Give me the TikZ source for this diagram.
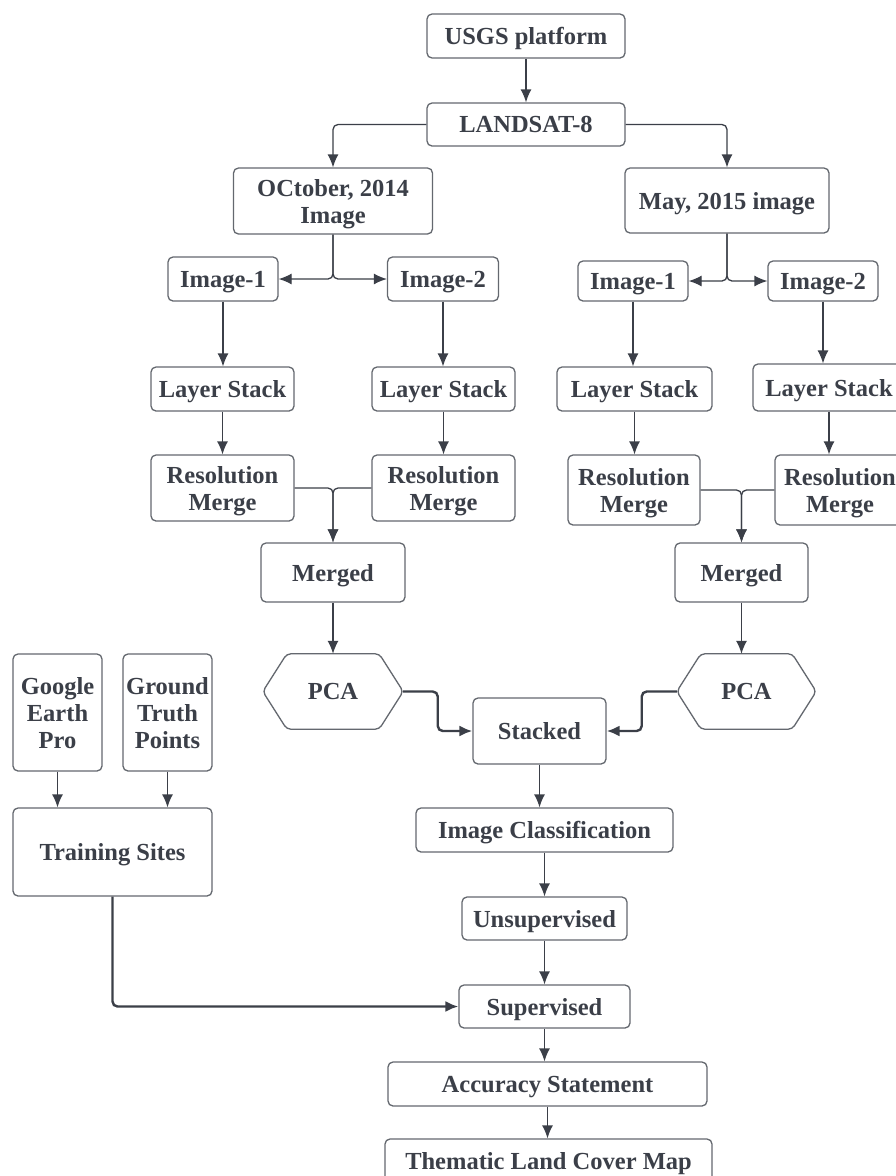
\documentclass[tikz,border=0pt]{standalone}
\usepackage{fontspec}
\setmainfont{Liberation Serif}
\usepackage{tikz}
\usetikzlibrary{arrows.meta,calc}
\definecolor{txtgray}{HTML}{3B3F48}
\definecolor{boxgray}{HTML}{64686F}

\begin{document}
\begin{tikzpicture}[x=1pt,y=-1pt,>={Latex[length=13pt,width=11pt]}]
	\tikzset{box/.style = {draw=boxgray,line width=1.3pt,rounded corners=5pt,fill=white,text=txtgray,
		font=\fontsize{24.5}{27}\selectfont\bfseries,align=center,inner sep=0pt,text depth=0pt}}
	\tikzset{dims/.style 2 args = {minimum width=#1pt,minimum height=#2pt}}
	\tikzset{hexa/.style = {text=txtgray,font=\fontsize{24.5}{27}\selectfont\bfseries,inner sep=0pt}}
	\tikzset{edge/.style = {->,draw=txtgray,line width=1.3pt,rounded corners=5pt}}
	\tikzset{thickedge/.style = {edge,line width=2.4pt}}

	\useasboundingbox (0,0) rectangle (896,1176);
	\clip (0,0) rectangle (896,1176);
	\fill[white] (0,0) rectangle (896,1176);

	% vertices
	\node[box,dims={198}{44}] (usgs) at (526,36) {USGS platform};
	\node[box,dims={198}{43}] (landsat) at (526,124.5) {LANDSAT-8};
	\node[box,dims={199}{66}] (oct) at (333,201) {OCtober, 2014\\Image};
	\node[box,dims={204}{65}] (may) at (727,200.5) {May, 2015 image};

	\node[box,dims={110}{44}] (octA) at (223,279) {Image-1};
	\node[box,dims={111}{44}] (octB) at (443,279) {Image-2};
	\node[box,dims={110}{40}] (mayA) at (633,281) {Image-1};
	\node[box,dims={110}{40}] (mayB) at (823,281) {Image-2};

	\node[box,dims={143}{44}] (lsA) at (222.5,389) {Layer Stack};
	\node[box,dims={143}{44}] (lsB) at (443.5,389) {Layer Stack};
	\node[box,dims={155}{44}] (lsC) at (634.5,389) {Layer Stack};
	\node[box,dims={152}{47}] (lsD) at (829,387.5) {Layer Stack};

	\node[box,dims={143}{66}] (resA) at (222.5,488) {Resolution\\Merge};
	\node[box,dims={143}{66}] (resB) at (443.5,488) {Resolution\\Merge};
	\node[box,dims={132}{70}] (resC) at (634,490) {Resolution\\Merge};
	\node[box,dims={130}{70}] (resD) at (840,490) {Resolution\\Merge};

	\node[box,dims={144}{59}] (mergedA) at (333,572.5) {Merged};
	\node[box,dims={133}{59}] (mergedB) at (741.5,572.5) {Merged};

	\node[hexa,dims={140}{75}] (pcaA) at (333,691.5) {PCA};
	\node[hexa,dims={139}{75}] (pcaB) at (746.5,691.5) {PCA};
	\foreach \p in {pcaA,pcaB}
		\draw[boxgray,line width=1.3pt,rounded corners=4pt] ($(\p.north west)+(24,0)$) -- ($(\p.north east)+(-24,0)$)
			-- (\p.east) -- ($(\p.south east)+(-24,0)$) -- ($(\p.south west)+(24,0)$) -- (\p.west) -- cycle;

	\node[box,dims={133}{66}] (stacked) at (539.5,731) {Stacked};

	\node[box,dims={89}{117}] (gep) at (57.5,712.5) {Google\\Earth\\Pro};
	\node[box,dims={89}{117}] (gtp) at (167.5,712.5) {Ground\\Truth\\Points};
	\node[box,dims={199}{88}] (train) at (112.5,852) {Training Sites};

	\node[box,dims={257}{44}] (imgcls) at (544.5,830) {Image Classification};
	\node[box,dims={165}{43}] (unsup) at (544.5,918.5) {Unsupervised};
	\node[box,dims={171}{43}] (superv) at (544.5,1006.5) {Supervised};
	\node[box,dims={319}{44}] (accur) at (547.5,1084) {Accuracy Statement};
	\node[box,dims={327}{44}] (thematic) at (548.5,1161) {Thematic Land Cover Map};

	%edges
	\draw[edge] (usgs) -- (landsat);
	\draw[edge] (landsat.west) -| (oct.north);
	\draw[edge] (landsat.east) -| (may.north);
	\draw[edge] (oct.south) |- (octA.east);
	\draw[edge] (oct.south) |- (octB.west);
	\draw[edge] (may.south) |- (mayA.east);
	\draw[edge] (may.south) |- (mayB.west);

	\draw[edge] (octA.south) -- (octA.south |- lsA.north);
	\draw[edge] (octB.south) -- (octB.south |- lsB.north);
	\draw[edge] (mayA.south) -- (mayA.south |- lsC.north);
	\draw[edge] (mayB.south) -- (mayB.south |- lsD.north);
	\draw[edge] (lsA.south) -- (lsA.south |- resA.north);
	\draw[edge] (lsB.south) -- (lsB.south |- resB.north);
	\draw[edge] (lsC.south) -- (lsC.south |- resC.north);
	\draw[edge] (lsD.south) -- (lsD.south |- resD.north);

	\draw[edge] (resA.east) -| (mergedA.north);
	\draw[edge] (resB.west) -| (mergedA.north);
	\draw[edge] (resC.east) -| (mergedB.north);
	\draw[edge] (resD.west) -| (mergedB.north);
	\draw[edge] (mergedA.south) -- (mergedA.south |- pcaA.north);
	\draw[edge] (mergedB.south) -- (mergedB.south |- pcaB.north);

	\draw[thickedge] (pcaA.east) -| ($(pcaA.east)!0.5!(stacked.west)$) |- (stacked.west);
	\draw[thickedge] (pcaB.west) -| ($(pcaB.west)!0.5!(stacked.east)$) |- (stacked.east);

	\draw[edge] (gep.south) -- (gep.south |- train.north);
	\draw[edge] (gtp.south) -- (gtp.south |- train.north);
	\draw[thickedge] (train.south) |- (superv.west);

	\draw[edge] (stacked.south) -- (stacked.south |- imgcls.north);
	\draw[edge] (imgcls.south) -- (imgcls.south |- unsup.north);
	\draw[edge] (unsup.south) -- (unsup.south |- superv.north);
	\draw[edge] (superv.south) -- (superv.south |- accur.north);
	\draw[edge] (accur.south) -- (accur.south |- thematic.north);

\end{tikzpicture}
\end{document}
